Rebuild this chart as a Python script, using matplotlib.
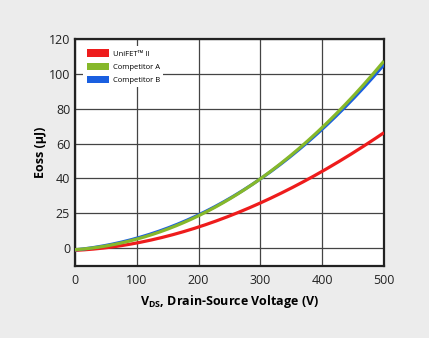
import matplotlib
matplotlib.use("Agg")
import matplotlib.pyplot as plt
from matplotlib.patches import Patch
import numpy as np

plt.rcParams['font.family'] = ['Open Sans', 'DejaVu Sans']

voltage = [0, 50, 100, 150, 200, 250, 300, 350, 400, 450, 500]
unifet = [-0.8, 0.0, 2.0, 6.5, 12.5, 19.3, 26.5, 34.5, 43, 54, 67]
comp_a = [-0.8, 1, 5, 11, 18.7, 28, 40, 53.5, 69, 87, 107.5]
comp_b = [-0.8, 1.2, 5.4, 11.6, 19.2, 28.5, 40, 52.8, 68, 85.5, 105.5]
series_names = ["UniFET\u2122 II", "Competitor A", "Competitor B"]
colors = ["#ee1c1c", "#86b82a", "#1a5fe0"]
yticks = [0, 20, 40, 60, 80, 100, 120]
ytick_labels = ["0", "25", "40", "60", "80", "100", "120"]
xticks = [0, 100, 200, 300, 400, 500]

fig = plt.figure(figsize=(4.29, 3.38), dpi=100)
fig.patch.set_facecolor("#ececec")
ax = fig.add_axes([75/429, 1-266/338, (384-75)/429, (266-39)/338])
ax.set_facecolor("white")

xs = np.linspace(0, 500, 200)
def smooth(x, y):
    c = np.polyfit(x, y, 3)
    return np.polyval(c, xs)

ax.plot(xs, smooth(voltage, unifet), color=colors[0], lw=2.3, zorder=3, solid_capstyle='butt')
ax.plot(xs, smooth(voltage, comp_b), color=colors[2], lw=2.3, zorder=3, solid_capstyle='butt')
ax.plot(xs, smooth(voltage, comp_a), color=colors[1], lw=2.3, zorder=4, solid_capstyle='butt')

ax.set_xlim(0, 500)
ax.set_ylim(-10.3, 120)
ax.set_xticks(xticks)
ax.set_yticks(yticks)
ax.set_yticklabels(ytick_labels)
ax.tick_params(axis='y', length=0, pad=3.5, labelsize=9, colors="#222222")
ax.tick_params(axis='x', length=0, pad=6, labelsize=9, colors="#222222")
ax.grid(True, color="#444444", lw=0.9)
ax.set_axisbelow(True)
for s in ax.spines.values():
    s.set_linewidth(1.6)
    s.set_color("#222222")

ax.set_xlabel(r"V$_{\mathregular{DS}}$, Drain-Source Voltage (V)", fontsize=9, fontweight='bold', labelpad=4)
ax.set_ylabel("Eoss (\u00b5J)", fontsize=9, fontweight='bold', labelpad=1)

handles = [Patch(facecolor=c, edgecolor='none') for c in colors]
leg = ax.legend(handles, series_names, loc='upper left', frameon=True, fontsize=5.5,
                handlelength=3.0, handleheight=1.1, borderpad=0.4, labelspacing=0.65,
                handletextpad=0.5, bbox_to_anchor=(0.015, 0.985))
leg.get_frame().set_facecolor("white")
leg.get_frame().set_edgecolor("none")
leg.get_frame().set_alpha(1)
leg.set_zorder(5)

fig.savefig("out.png", dpi=100, facecolor=fig.get_facecolor())
